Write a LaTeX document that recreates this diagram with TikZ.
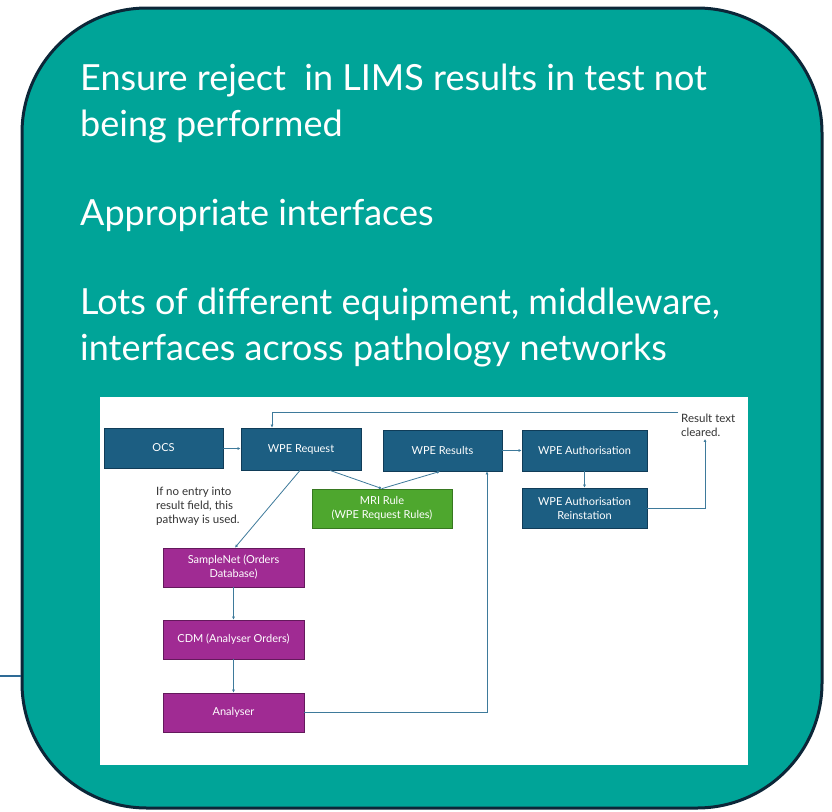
\documentclass[tikz,border=0pt]{standalone}
\usepackage{fontspec}
\setmainfont{Lato}
\usetikzlibrary{arrows.meta, positioning, calc}
\definecolor{panelteal}{RGB}{0, 164, 152}
\definecolor{panelline}{RGB}{12, 38, 56}
\definecolor{wpeblue}{RGB}{28, 94, 130}
\definecolor{wpeblueline}{RGB}{16, 60, 88}
\definecolor{rulegreen}{RGB}{78, 167, 46}
\definecolor{rulegreenline}{RGB}{55, 120, 32}
\definecolor{ordpurple}{RGB}{160, 43, 147}
\definecolor{ordpurpleline}{RGB}{100, 25, 92}
\definecolor{flowline}{RGB}{62, 122, 155}
\definecolor{stubblue}{RGB}{46, 107, 150}

\begin{document}
\begin{tikzpicture}[x=1pt, y=-1pt,
    lead/.style={font=\fontsize{36}{46}\selectfont, text=white, align=left, anchor=north west, inner sep=0pt},
    bbox/.style={draw=wpeblueline, fill=wpeblue, text=white, font=\fontsize{11}{14}\selectfont, align=center, inner sep=1pt, line width=0.8pt},
    gbox/.style={bbox, draw=rulegreenline, fill=rulegreen},
    pbox/.style={bbox, draw=ordpurpleline, fill=ordpurple},
    note/.style={font=\fontsize{11.5}{14}\selectfont, text=black!80, align=left, anchor=north west, inner sep=0pt},
    flow/.style={draw=flowline, line width=0.8pt, -{Latex[length=3pt, width=3pt]}}
  ]
    \useasboundingbox (0,0) rectangle (832,811);
    % outer panel
    \node[draw=panelline, fill=panelteal, line width=3pt, rounded corners=125pt,
      minimum width=800pt, minimum height=800pt, inner sep=0pt] (panel) at (422,408) {};
    \coordinate (stub) at (0,676);
    \draw[stubblue, line width=1.5pt] (stub) -- (panel.west |- stub);
    % heading texts
    \node[lead] (t1) at (80,64) {Ensure reject \ in LIMS results in test not\\being performed};
    \node[lead] (t2) at (80,199) {Appropriate interfaces};
    \node[lead] (t3) at (80,288) {Lots of different equipment, middleware,\\interfaces across pathology networks};
    % screenshot area
    \node[fill=white, minimum width=648pt, minimum height=368pt, inner sep=0pt] (shot) at (424,581) {};
    % top row
    \node[bbox, minimum width=119pt, minimum height=40pt] (ocs) at (163.5,448) {OCS};
    \node[bbox, minimum width=120pt, minimum height=42pt] (req) at (301,449) {WPE Request};
    \node[bbox, minimum width=119pt, minimum height=41pt] (res) at (442.5,450.5) {WPE Results};
    \node[bbox, minimum width=125pt, minimum height=41pt] (auth) at (584.5,450.5) {WPE Authorisation};
    \node[bbox, minimum width=125pt, minimum height=40pt] (rein) at (584.5,508) {WPE Authorisation\\Reinstation};
    \node[gbox, minimum width=140pt, minimum height=39pt] (mri) at (382,508.5) {MRI Rule\\(WPE Request Rules)};
    % orders pathway
    \node[pbox, minimum width=141pt, minimum height=39pt] (samp) at (233.5,567.5) {SampleNet (Orders\\Database)};
    \node[pbox, minimum width=141pt, minimum height=39pt] (cdm) at (233.5,639.5) {CDM (Analyser Orders)};
    \node[pbox, minimum width=141pt, minimum height=39pt] (ana) at (233.5,712.5) {Analyser};
    % notes
    \node[note] (ifno) at (156,487) {If no entry into\\result field, this\\pathway is used.};
    \node[note] (clr) at (681,414) {Result text\\cleared.};
    % connectors
    \coordinate (fb) at (678,412);
    \coordinate (fbx) at (272,0);
    \draw[flow] (ocs) -- (req);
    \draw[flow] (fb) -| (req.north -| fbx);
    \draw[flow] ($(req.south)+(29,0)$) -- (mri.north);
    \draw[flow] (mri.north) -- ($(res.south)+(-2.5,0)$);
    \draw[flow] ($(req.south)+(-1,0)$) -- ($(samp.north)+(1.5,0)$);
    \draw[flow] (samp) -- (cdm);
    \draw[flow] (cdm) -- (ana);
    \draw[flow] (ana.east) -| ($(res.south)+(44.5,0)$);
    \draw[flow] (res) -- (auth);
    \draw[flow] (auth) -- (rein);
    \draw[flow] (rein.east) -| ($(clr.south west)+(24,2)$);
  \end{tikzpicture}
\end{document}
